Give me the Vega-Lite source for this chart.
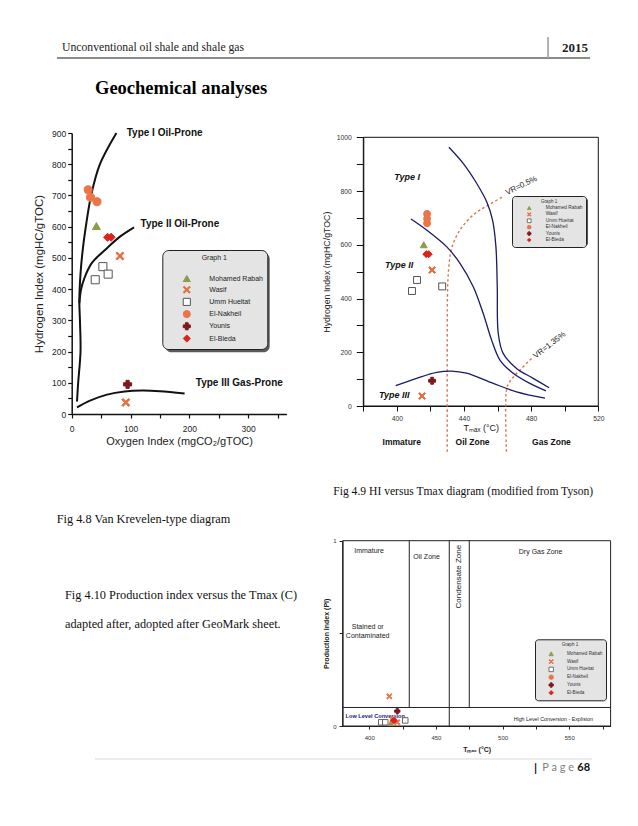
{
 "$schema": "https://vega.github.io/schema/vega-lite/v6.json",
 "width": 638,
 "height": 826,
 "autosize": {"type": "none"},
 "padding": 0,
 "background": "#ffffff",
 "config": {"view": {"stroke": null}, "font": "Liberation Sans"},
 "datasets": {
  "vk": [
   {"sample": "El-Nakheil", "oi": 28, "hi": 718},
   {"sample": "El-Nakheil", "oi": 32, "hi": 694},
   {"sample": "El-Nakheil", "oi": 43, "hi": 680},
   {"sample": "Mohamed Rabah", "oi": 42, "hi": 602},
   {"sample": "El-Bieda", "oi": 61, "hi": 566},
   {"sample": "El-Bieda", "oi": 67, "hi": 566},
   {"sample": "Wasif", "oi": 82, "hi": 506},
   {"sample": "Wasif", "oi": 92, "hi": 37},
   {"sample": "Umm Hueitat", "oi": 53, "hi": 472},
   {"sample": "Umm Hueitat", "oi": 62, "hi": 448},
   {"sample": "Umm Hueitat", "oi": 40, "hi": 430},
   {"sample": "Younis", "oi": 95, "hi": 95}
  ],
  "vkCurves": [
   {"curve": "Type I", "oi": 9, "hi": 40},
   {"curve": "Type I", "oi": 11, "hi": 100},
   {"curve": "Type I", "oi": 15, "hi": 200},
   {"curve": "Type I", "oi": 14, "hi": 300},
   {"curve": "Type I", "oi": 13, "hi": 360},
   {"curve": "Type I", "oi": 15, "hi": 450},
   {"curve": "Type I", "oi": 19, "hi": 530},
   {"curve": "Type I", "oi": 24, "hi": 600},
   {"curve": "Type I", "oi": 33, "hi": 700},
   {"curve": "Type I", "oi": 48, "hi": 800},
   {"curve": "Type I", "oi": 76, "hi": 900},
   {"curve": "Type II", "oi": 13, "hi": 355},
   {"curve": "Type II", "oi": 16, "hi": 400},
   {"curve": "Type II", "oi": 21, "hi": 432},
   {"curve": "Type II", "oi": 34, "hi": 483},
   {"curve": "Type II", "oi": 60, "hi": 531},
   {"curve": "Type II", "oi": 82, "hi": 568},
   {"curve": "Type II", "oi": 106, "hi": 598},
   {"curve": "Type III", "oi": 9, "hi": 21},
   {"curve": "Type III", "oi": 30, "hi": 42},
   {"curve": "Type III", "oi": 60, "hi": 62},
   {"curve": "Type III", "oi": 90, "hi": 72},
   {"curve": "Type III", "oi": 120, "hi": 75},
   {"curve": "Type III", "oi": 150, "hi": 73},
   {"curve": "Type III", "oi": 192, "hi": 66}
  ],
  "vkLabels": [
   {"label": "Type I Oil-Prone", "oi": 93.5, "hi": 900},
   {"label": "Type II Oil-Prone", "oi": 117, "hi": 608},
   {"label": "Type III Gas-Prone", "oi": 211, "hi": 100}
  ],
  "ht": [
   {"sample": "El-Nakheil", "tmax": 418, "hi": 715},
   {"sample": "El-Nakheil", "tmax": 418, "hi": 697},
   {"sample": "El-Nakheil", "tmax": 418, "hi": 680},
   {"sample": "Mohamed Rabah", "tmax": 416, "hi": 600},
   {"sample": "El-Bieda", "tmax": 417.5, "hi": 565},
   {"sample": "El-Bieda", "tmax": 419, "hi": 565},
   {"sample": "Wasif", "tmax": 421, "hi": 506},
   {"sample": "Wasif", "tmax": 415, "hi": 37},
   {"sample": "Umm Hueitat", "tmax": 412, "hi": 469},
   {"sample": "Umm Hueitat", "tmax": 409, "hi": 428},
   {"sample": "Umm Hueitat", "tmax": 427, "hi": 445},
   {"sample": "Younis", "tmax": 421, "hi": 94}
  ],
  "htCurves": [
   {"curve": "A", "tmax": 431, "hi": 963},
   {"curve": "A", "tmax": 439.5, "hi": 903},
   {"curve": "A", "tmax": 447.5, "hi": 829},
   {"curve": "A", "tmax": 453.5, "hi": 760},
   {"curve": "A", "tmax": 457, "hi": 692},
   {"curve": "A", "tmax": 459, "hi": 593},
   {"curve": "A", "tmax": 459.8, "hi": 444},
   {"curve": "A", "tmax": 460.4, "hi": 270},
   {"curve": "A", "tmax": 463.3, "hi": 196},
   {"curve": "A", "tmax": 471.3, "hi": 140},
   {"curve": "A", "tmax": 481.2, "hi": 103},
   {"curve": "A", "tmax": 490.7, "hi": 68},
   {"curve": "B", "tmax": 408.4, "hi": 696},
   {"curve": "B", "tmax": 417.7, "hi": 655},
   {"curve": "B", "tmax": 429.6, "hi": 593},
   {"curve": "B", "tmax": 437.6, "hi": 531},
   {"curve": "B", "tmax": 445.5, "hi": 444},
   {"curve": "B", "tmax": 451.4, "hi": 345},
   {"curve": "B", "tmax": 456.4, "hi": 246},
   {"curve": "B", "tmax": 461.4, "hi": 171},
   {"curve": "B", "tmax": 469.3, "hi": 122},
   {"curve": "B", "tmax": 479.2, "hi": 84},
   {"curve": "B", "tmax": 488.8, "hi": 56},
   {"curve": "C", "tmax": 399.3, "hi": 76},
   {"curve": "C", "tmax": 411.8, "hi": 103},
   {"curve": "C", "tmax": 423.7, "hi": 125},
   {"curve": "C", "tmax": 432.6, "hi": 130},
   {"curve": "C", "tmax": 441.5, "hi": 122},
   {"curve": "C", "tmax": 457.4, "hi": 84},
   {"curve": "C", "tmax": 471.3, "hi": 53},
   {"curve": "C", "tmax": 488.2, "hi": 29}
  ],
  "htVR": [
   {"curve": "VR=0.5%", "tmax": 430, "hi": -170},
   {"curve": "VR=0.5%", "tmax": 430, "hi": 250},
   {"curve": "VR=0.5%", "tmax": 430.3, "hi": 450},
   {"curve": "VR=0.5%", "tmax": 431, "hi": 520},
   {"curve": "VR=0.5%", "tmax": 432.6, "hi": 587},
   {"curve": "VR=0.5%", "tmax": 437.6, "hi": 655},
   {"curve": "VR=0.5%", "tmax": 445.5, "hi": 711},
   {"curve": "VR=0.5%", "tmax": 453.4, "hi": 744},
   {"curve": "VR=0.5%", "tmax": 463.3, "hi": 779},
   {"curve": "VR=1.35%", "tmax": 465.3, "hi": -170},
   {"curve": "VR=1.35%", "tmax": 465.3, "hi": 60},
   {"curve": "VR=1.35%", "tmax": 467, "hi": 88},
   {"curve": "VR=1.35%", "tmax": 470, "hi": 112},
   {"curve": "VR=1.35%", "tmax": 474.3, "hi": 140},
   {"curve": "VR=1.35%", "tmax": 480.2, "hi": 177}
  ],
  "htTypes": [
   {"label": "Type I", "tmax": 398.5, "hi": 853},
   {"label": "Type II", "tmax": 393, "hi": 525},
   {"label": "Type III", "tmax": 389.3, "hi": 41}
  ],
  "htZones": [
   {"label": "Immature", "tmax": 402.9, "hi": -135},
   {"label": "Oil Zone", "tmax": 445.1, "hi": -135},
   {"label": "Gas Zone", "tmax": 492.1, "hi": -135}
  ],
  "pt": [
   {"sample": "Umm Hueitat", "tmax": 409, "pi": 0.02},
   {"sample": "Umm Hueitat", "tmax": 412, "pi": 0.02},
   {"sample": "Umm Hueitat", "tmax": 427, "pi": 0.03},
   {"sample": "Mohamed Rabah", "tmax": 416, "pi": 0.015},
   {"sample": "Wasif", "tmax": 415, "pi": 0.16},
   {"sample": "Wasif", "tmax": 421, "pi": 0.02},
   {"sample": "El-Nakheil", "tmax": 418, "pi": 0.025},
   {"sample": "El-Nakheil", "tmax": 418, "pi": 0.03},
   {"sample": "El-Nakheil", "tmax": 418, "pi": 0.035},
   {"sample": "El-Bieda", "tmax": 418, "pi": 0.03},
   {"sample": "El-Bieda", "tmax": 419, "pi": 0.03},
   {"sample": "Younis", "tmax": 421, "pi": 0.08}
  ],
  "ptBounds": [
   {"tmax": 430, "pi_from": 0.1, "pi_to": 1},
   {"tmax": 460, "pi_from": 0, "pi_to": 1},
   {"tmax": 475, "pi_from": 0.1, "pi_to": 1}
  ],
  "ptLevel": [
   {"tmax_from": 380, "tmax_to": 581, "pi": 0.1}
  ],
  "ptZones": [
   {"label": "Immature", "tmax": 399.8, "pi": 0.944},
   {"label": "Oil Zone", "tmax": 443, "pi": 0.914},
   {"label": "Dry Gas Zone", "tmax": 528.5, "pi": 0.937},
   {"label": "Stained or", "tmax": 398.8, "pi": 0.536},
   {"label": "Contaminated", "tmax": 398.8, "pi": 0.486}
  ]
 },
 "layer": [
  {
   "layer": [
    {
     "data": {"values": [{"item": "legend shadow"}]},
     "mark": {"type": "rect", "color": "#5a5a5a", "cornerRadius": 6},
     "encoding": {
      "x": {"datum": 159.1, "type": "quantitative", "scale": {"domain": [0, 365], "range": [71.7, 286.4], "nice": false, "zero": false}},
      "x2": {"datum": 336.6},
      "y": {"datum": 515.7, "type": "quantitative", "scale": {"domain": [0, 900], "range": [414, 133], "nice": false, "zero": false}},
      "y2": {"datum": 197.6}
     }
    },
    {
     "data": {"name": "vkCurves"},
     "mark": {"type": "line", "color": "#111111", "strokeWidth": 2, "interpolate": "catmull-rom"},
     "encoding": {
      "x": {"field": "oi", "type": "quantitative", "scale": {"domain": [0, 365], "range": [71.7, 286.4], "nice": false, "zero": false}},
      "y": {"field": "hi", "type": "quantitative", "scale": {"domain": [0, 900], "range": [414, 133], "nice": false, "zero": false}},
      "detail": {"field": "curve"},
      "order": {"value": null}
     }
    },
    {
     "data": {"name": "vk"},
     "mark": {"type": "point", "filled": true, "opacity": 1, "size": 65, "strokeWidth": 1},
     "encoding": {
      "x": {"field": "oi", "type": "quantitative", "scale": {"domain": [0, 365], "range": [71.7, 286.4], "nice": false, "zero": false},
       "axis": {"orient": "bottom", "offset": -412, "values": [0, 50, 100, 150, 200, 250, 300, 350], "labelExpr": "datum.value % 100 == 0 ? datum.label : ''", "format": "d", "title": "Oxygen Index (mgCO₂/gTOC)", "titleFont": "Liberation Sans", "titleFontSize": 11, "titleFontWeight": "normal", "titleColor": "#222222", "titlePadding": 3, "labelFont": "Liberation Sans", "labelFontSize": 8.5, "labelColor": "#222222", "labelPadding": 6, "labelFlush": false, "tickSize": 4, "tickWidth": 1.2, "tickColor": "#111111", "domainColor": "#111111", "domainWidth": 1.5, "grid": false}},
      "y": {"field": "hi", "type": "quantitative", "scale": {"domain": [0, 900], "range": [414, 133], "nice": false, "zero": false},
       "axis": {"orient": "left", "offset": -71.7, "values": [0, 50, 100, 150, 200, 250, 300, 350, 400, 450, 500, 550, 600, 650, 700, 750, 800, 850, 900], "labelExpr": "datum.value % 100 == 0 ? datum.label : ''", "format": "d", "title": "Hydrogen Index (mgHC/gTOC)", "titleFont": "Liberation Sans", "titleFontSize": 11.5, "titleFontWeight": "normal", "titleColor": "#222222", "titlePadding": 7, "labelFont": "Liberation Sans", "labelFontSize": 8.5, "labelColor": "#222222", "labelPadding": 2, "labelFlush": false, "tickSize": 4, "tickWidth": 1.2, "tickColor": "#111111", "domainColor": "#111111", "domainWidth": 1.5, "grid": false}},
      "shape": {"field": "sample", "type": "nominal", "scale": {"domain": ["Mohamed Rabah", "Wasif", "Umm Hueitat", "El-Nakheil", "Younis", "El-Bieda"], "range": ["triangle-up", "M-1,-0.7L-0.7,-1L0,-0.3L0.7,-1L1,-0.7L0.3,0L1,0.7L0.7,1L0,0.3L-0.7,1L-1,0.7L-0.3,0Z", "square", "circle", "cross", "diamond"]},
       "legend": {"orient": "none", "legendX": 162.3, "legendY": 250, "title": "Graph 1", "titleFont": "Liberation Sans", "titleFontSize": 7, "titleFontWeight": "normal", "titleColor": "#222222", "titleAnchor": "middle", "titlePadding": 13, "labelFont": "Liberation Sans", "labelFontSize": 7, "labelColor": "#222222", "labelOffset": 18, "symbolOffset": 16, "symbolSize": 50, "symbolStrokeWidth": 1, "symbolOpacity": 1, "rowPadding": -0.8, "padding": 4, "fillColor": "#e4e4e4", "strokeColor": "#222222", "cornerRadius": 6}},
      "fill": {"field": "sample", "type": "nominal", "scale": {"domain": ["Mohamed Rabah", "Wasif", "Umm Hueitat", "El-Nakheil", "Younis", "El-Bieda"], "range": ["#8d9b4e", "#e2703f", "#ffffff", "#ec7547", "#7b1a1e", "#d9231d"]},
       "legend": {"orient": "none", "legendX": 162.3, "legendY": 250, "title": "Graph 1", "titleFont": "Liberation Sans", "titleFontSize": 7, "titleFontWeight": "normal", "titleColor": "#222222", "titleAnchor": "middle", "titlePadding": 13, "labelFont": "Liberation Sans", "labelFontSize": 7, "labelColor": "#222222", "labelOffset": 18, "symbolOffset": 16, "symbolSize": 50, "symbolStrokeWidth": 1, "symbolOpacity": 1, "rowPadding": -0.8, "padding": 4, "fillColor": "#e4e4e4", "strokeColor": "#222222", "cornerRadius": 6}},
      "stroke": {"field": "sample", "type": "nominal", "scale": {"domain": ["Mohamed Rabah", "Wasif", "Umm Hueitat", "El-Nakheil", "Younis", "El-Bieda"], "range": ["#8d9b4e", "#e2703f", "#555555", "#ec7547", "#7b1a1e", "#d9231d"]},
       "legend": {"orient": "none", "legendX": 162.3, "legendY": 250, "title": "Graph 1", "titleFont": "Liberation Sans", "titleFontSize": 7, "titleFontWeight": "normal", "titleColor": "#222222", "titleAnchor": "middle", "titlePadding": 13, "labelFont": "Liberation Sans", "labelFontSize": 7, "labelColor": "#222222", "labelOffset": 18, "symbolOffset": 16, "symbolSize": 50, "symbolStrokeWidth": 1, "symbolOpacity": 1, "rowPadding": -0.8, "padding": 4, "fillColor": "#e4e4e4", "strokeColor": "#222222", "cornerRadius": 6}}
     }
    },
    {
     "data": {"name": "vkLabels"},
     "mark": {"type": "text", "font": "Liberation Sans", "fontWeight": "bold", "fontSize": 10, "align": "left", "baseline": "middle", "color": "#111111"},
     "encoding": {
      "x": {"field": "oi", "type": "quantitative", "scale": {"domain": [0, 365], "range": [71.7, 286.4], "nice": false, "zero": false}},
      "y": {"field": "hi", "type": "quantitative", "scale": {"domain": [0, 900], "range": [414, 133], "nice": false, "zero": false}},
      "text": {"field": "label"}
     }
    },
    {
     "data": {"values": [{"label": "Unconventional oil shale and shale gas"}]},
     "mark": {"type": "text", "font": "Liberation Serif", "fontSize": 11.7, "align": "left", "baseline": "middle", "color": "#222222"},
     "encoding": {
      "x": {"datum": -16.5, "type": "quantitative", "scale": {"domain": [0, 365], "range": [71.7, 286.4], "nice": false, "zero": false}},
      "y": {"datum": 1175.4, "type": "quantitative", "scale": {"domain": [0, 900], "range": [414, 133], "nice": false, "zero": false}},
      "text": {"field": "label"}
     }
    },
    {
     "data": {"values": [{"label": "Geochemical analyses"}]},
     "mark": {"type": "text", "font": "Liberation Serif", "fontSize": 18.5, "fontWeight": "bold", "align": "left", "baseline": "middle", "color": "#000000"},
     "encoding": {
      "x": {"datum": 39.6, "type": "quantitative", "scale": {"domain": [0, 365], "range": [71.7, 286.4], "nice": false, "zero": false}},
      "y": {"datum": 1044.1, "type": "quantitative", "scale": {"domain": [0, 900], "range": [414, 133], "nice": false, "zero": false}},
      "text": {"field": "label"}
     }
    },
    {
     "data": {"values": [{"item": "header rule"}]},
     "mark": {"type": "rule", "color": "#8c8c8c", "strokeWidth": 2},
     "encoding": {
      "x": {"datum": -25, "type": "quantitative", "scale": {"domain": [0, 365], "range": [71.7, 286.4], "nice": false, "zero": false}},
      "x2": {"datum": 881.2},
      "y": {"datum": 1140.2, "type": "quantitative", "scale": {"domain": [0, 900], "range": [414, 133], "nice": false, "zero": false}}
     }
    },
    {
     "data": {"values": [{"item": "header divider"}]},
     "mark": {"type": "rule", "color": "#9a9a9a", "strokeWidth": 1.5},
     "encoding": {
      "x": {"datum": 809.8, "type": "quantitative", "scale": {"domain": [0, 365], "range": [71.7, 286.4], "nice": false, "zero": false}},
      "y": {"datum": 1140.2, "type": "quantitative", "scale": {"domain": [0, 900], "range": [414, 133], "nice": false, "zero": false}},
      "y2": {"datum": 1207.5}
     }
    },
    {
     "data": {"values": [{"label": "Fig 4.8 Van Krevelen-type diagram"}]},
     "mark": {"type": "text", "font": "Liberation Serif", "fontSize": 12.3, "align": "left", "baseline": "middle", "color": "#111111"},
     "encoding": {
      "x": {"datum": -25.5, "type": "quantitative", "scale": {"domain": [0, 365], "range": [71.7, 286.4], "nice": false, "zero": false}},
      "y": {"datum": -336.3, "type": "quantitative", "scale": {"domain": [0, 900], "range": [414, 133], "nice": false, "zero": false}},
      "text": {"field": "label"}
     }
    }
   ]
  },
  {
   "layer": [
    {
     "data": {"values": [{"item": "plot frame"}]},
     "mark": {"type": "rect", "fill": null, "stroke": "#111111", "strokeWidth": 1},
     "encoding": {
      "x": {"datum": 380, "type": "quantitative", "scale": {"domain": [380, 520], "range": [363.3, 598.3], "nice": false, "zero": false}},
      "x2": {"datum": 520},
      "y": {"datum": 0, "type": "quantitative", "scale": {"domain": [0, 1000], "range": [406, 137.3], "nice": false, "zero": false}},
      "y2": {"datum": 1000}
     }
    },
    {
     "data": {"values": [{"item": "legend shadow"}]},
     "mark": {"type": "rect", "color": "#5a5a5a", "cornerRadius": 3},
     "encoding": {
      "x": {"datum": 469.8, "type": "quantitative", "scale": {"domain": [380, 520], "range": [363.3, 598.3], "nice": false, "zero": false}},
      "x2": {"datum": 513.9},
      "y": {"datum": 774.1, "type": "quantitative", "scale": {"domain": [0, 1000], "range": [406, 137.3], "nice": false, "zero": false}},
      "y2": {"datum": 595.5}
     }
    },
    {
     "data": {"name": "htVR"},
     "mark": {"type": "line", "color": "#e0704a", "strokeWidth": 1.4, "strokeDash": [2.5, 2.5], "interpolate": "catmull-rom"},
     "encoding": {
      "x": {"field": "tmax", "type": "quantitative", "scale": {"domain": [380, 520], "range": [363.3, 598.3], "nice": false, "zero": false}},
      "y": {"field": "hi", "type": "quantitative", "scale": {"domain": [0, 1000], "range": [406, 137.3], "nice": false, "zero": false}},
      "detail": {"field": "curve"},
      "order": {"value": null}
     }
    },
    {
     "data": {"name": "htCurves"},
     "mark": {"type": "line", "color": "#1a1a66", "strokeWidth": 1.3, "interpolate": "catmull-rom"},
     "encoding": {
      "x": {"field": "tmax", "type": "quantitative", "scale": {"domain": [380, 520], "range": [363.3, 598.3], "nice": false, "zero": false}},
      "y": {"field": "hi", "type": "quantitative", "scale": {"domain": [0, 1000], "range": [406, 137.3], "nice": false, "zero": false}},
      "detail": {"field": "curve"},
      "order": {"value": null}
     }
    },
    {
     "data": {"name": "ht"},
     "mark": {"type": "point", "filled": true, "opacity": 1, "size": 48, "strokeWidth": 1},
     "encoding": {
      "x": {"field": "tmax", "type": "quantitative", "scale": {"domain": [380, 520], "range": [363.3, 598.3], "nice": false, "zero": false},
       "axis": {"orient": "bottom", "offset": -420, "values": [380, 400, 420, 440, 460, 480, 500, 520], "labelExpr": "(datum.value - 400) % 40 == 0 ? datum.label : ''", "format": "d", "title": "Tₘₐₓ (°C)", "titleFont": "Liberation Sans", "titleFontSize": 9, "titleFontWeight": "normal", "titleColor": "#222222", "titlePadding": 2, "labelFont": "Liberation Sans", "labelFontSize": 6.8, "labelColor": "#333333", "labelPadding": 4, "labelFlush": false, "tickSize": 5, "tickWidth": 1, "tickColor": "#111111", "domainColor": "#111111", "domainWidth": 1, "grid": false}},
      "y": {"field": "hi", "type": "quantitative", "scale": {"domain": [0, 1000], "range": [406, 137.3], "nice": false, "zero": false},
       "axis": {"orient": "left", "offset": -363.3, "values": [0, 100, 200, 300, 400, 500, 600, 700, 800, 900, 1000], "labelExpr": "datum.value % 200 == 0 ? datum.label : ''", "format": "d", "title": "Hydrogen Index (mgHC/gTOC)", "titleFont": "Liberation Sans", "titleFontSize": 8.8, "titleFontWeight": "normal", "titleColor": "#222222", "titlePadding": 5, "labelFont": "Liberation Sans", "labelFontSize": 6.8, "labelColor": "#333333", "labelPadding": 5, "labelFlush": false, "tickSize": 7, "tickWidth": 1, "tickColor": "#111111", "domainColor": "#111111", "domainWidth": 1, "grid": false}},
      "shape": {"field": "sample", "type": "nominal", "scale": {"domain": ["Mohamed Rabah", "Wasif", "Umm Hueitat", "El-Nakheil", "Younis", "El-Bieda"], "range": ["triangle-up", "M-1,-0.7L-0.7,-1L0,-0.3L0.7,-1L1,-0.7L0.3,0L1,0.7L0.7,1L0,0.3L-0.7,1L-1,0.7L-0.3,0Z", "square", "circle", "cross", "diamond"]},
       "legend": {"orient": "none", "legendX": 512, "legendY": 196, "title": "Graph 1", "titleFont": "Liberation Sans", "titleFontSize": 4.5, "titleFontWeight": "normal", "titleColor": "#333333", "titleAnchor": "middle", "titlePadding": 2, "labelFont": "Liberation Sans", "labelFontSize": 4.8, "labelColor": "#333333", "labelOffset": 14, "symbolOffset": 11.7, "symbolSize": 14, "symbolStrokeWidth": 0.8, "symbolOpacity": 1, "rowPadding": -0.6, "padding": 3, "fillColor": "#e4e4e4", "strokeColor": "#222222", "cornerRadius": 3}},
      "fill": {"field": "sample", "type": "nominal", "scale": {"domain": ["Mohamed Rabah", "Wasif", "Umm Hueitat", "El-Nakheil", "Younis", "El-Bieda"], "range": ["#8d9b4e", "#e2703f", "#ffffff", "#ec7547", "#7b1a1e", "#d9231d"]},
       "legend": {"orient": "none", "legendX": 512, "legendY": 196, "title": "Graph 1", "titleFont": "Liberation Sans", "titleFontSize": 4.5, "titleFontWeight": "normal", "titleColor": "#333333", "titleAnchor": "middle", "titlePadding": 2, "labelFont": "Liberation Sans", "labelFontSize": 4.8, "labelColor": "#333333", "labelOffset": 14, "symbolOffset": 11.7, "symbolSize": 14, "symbolStrokeWidth": 0.8, "symbolOpacity": 1, "rowPadding": -0.6, "padding": 3, "fillColor": "#e4e4e4", "strokeColor": "#222222", "cornerRadius": 3}},
      "stroke": {"field": "sample", "type": "nominal", "scale": {"domain": ["Mohamed Rabah", "Wasif", "Umm Hueitat", "El-Nakheil", "Younis", "El-Bieda"], "range": ["#8d9b4e", "#e2703f", "#555555", "#ec7547", "#7b1a1e", "#d9231d"]},
       "legend": {"orient": "none", "legendX": 512, "legendY": 196, "title": "Graph 1", "titleFont": "Liberation Sans", "titleFontSize": 4.5, "titleFontWeight": "normal", "titleColor": "#333333", "titleAnchor": "middle", "titlePadding": 2, "labelFont": "Liberation Sans", "labelFontSize": 4.8, "labelColor": "#333333", "labelOffset": 14, "symbolOffset": 11.7, "symbolSize": 14, "symbolStrokeWidth": 0.8, "symbolOpacity": 1, "rowPadding": -0.6, "padding": 3, "fillColor": "#e4e4e4", "strokeColor": "#222222", "cornerRadius": 3}}
     }
    },
    {
     "data": {"name": "htTypes"},
     "mark": {"type": "text", "font": "Liberation Sans", "fontWeight": "bold", "fontStyle": "italic", "fontSize": 9, "align": "left", "baseline": "middle", "color": "#111111"},
     "encoding": {
      "x": {"field": "tmax", "type": "quantitative", "scale": {"domain": [380, 520], "range": [363.3, 598.3], "nice": false, "zero": false}},
      "y": {"field": "hi", "type": "quantitative", "scale": {"domain": [0, 1000], "range": [406, 137.3], "nice": false, "zero": false}},
      "text": {"field": "label"}
     }
    },
    {
     "data": {"name": "htZones"},
     "mark": {"type": "text", "font": "Liberation Sans", "fontWeight": "bold", "fontSize": 8.5, "align": "center", "baseline": "middle", "color": "#111111"},
     "encoding": {
      "x": {"field": "tmax", "type": "quantitative", "scale": {"domain": [380, 520], "range": [363.3, 598.3], "nice": false, "zero": false}},
      "y": {"field": "hi", "type": "quantitative", "scale": {"domain": [0, 1000], "range": [406, 137.3], "nice": false, "zero": false}},
      "text": {"field": "label"}
     }
    },
    {
     "data": {"values": [{"label": "VR=0.5%", "tmax": 474.3, "hi": 819}]},
     "mark": {"type": "text", "font": "Liberation Sans", "fontSize": 8, "angle": -26, "align": "center", "baseline": "middle", "color": "#222222"},
     "encoding": {
      "x": {"field": "tmax", "type": "quantitative", "scale": {"domain": [380, 520], "range": [363.3, 598.3], "nice": false, "zero": false}},
      "y": {"field": "hi", "type": "quantitative", "scale": {"domain": [0, 1000], "range": [406, 137.3], "nice": false, "zero": false}},
      "text": {"field": "label"}
     }
    },
    {
     "data": {"values": [{"label": "VR=1.35%", "tmax": 491.1, "hi": 226}]},
     "mark": {"type": "text", "font": "Liberation Sans", "fontSize": 8, "angle": -38, "align": "center", "baseline": "middle", "color": "#222222"},
     "encoding": {
      "x": {"field": "tmax", "type": "quantitative", "scale": {"domain": [380, 520], "range": [363.3, 598.3], "nice": false, "zero": false}},
      "y": {"field": "hi", "type": "quantitative", "scale": {"domain": [0, 1000], "range": [406, 137.3], "nice": false, "zero": false}},
      "text": {"field": "label"}
     }
    },
    {
     "data": {"values": [{"label": "2015"}]},
     "mark": {"type": "text", "font": "Liberation Serif", "fontSize": 13, "fontWeight": "bold", "align": "right", "baseline": "middle", "color": "#222222"},
     "encoding": {
      "x": {"datum": 513.9, "type": "quantitative", "scale": {"domain": [380, 520], "range": [363.3, 598.3], "nice": false, "zero": false}},
      "y": {"datum": 1332.3, "type": "quantitative", "scale": {"domain": [0, 1000], "range": [406, 137.3], "nice": false, "zero": false}},
      "text": {"field": "label"}
     }
    },
    {
     "data": {"values": [{"label": "Fig 4.9 HI versus Tmax diagram (modified from Tyson)"}]},
     "mark": {"type": "text", "font": "Liberation Serif", "fontSize": 11.6, "align": "left", "baseline": "middle", "color": "#111111"},
     "encoding": {
      "x": {"datum": 362.1, "type": "quantitative", "scale": {"domain": [380, 520], "range": [363.3, 598.3], "nice": false, "zero": false}},
      "y": {"datum": -318.9, "type": "quantitative", "scale": {"domain": [0, 1000], "range": [406, 137.3], "nice": false, "zero": false}},
      "text": {"field": "label"}
     }
    }
   ]
  },
  {
   "layer": [
    {
     "data": {"values": [{"item": "plot frame"}]},
     "mark": {"type": "rect", "fill": null, "stroke": "#222222", "strokeWidth": 1},
     "encoding": {
      "x": {"datum": 380, "type": "quantitative", "scale": {"domain": [380, 581], "range": [342.6, 610.6], "nice": false, "zero": false}},
      "x2": {"datum": 581},
      "y": {"datum": 0, "type": "quantitative", "scale": {"domain": [0, 1], "range": [726, 540.7], "nice": false, "zero": false}},
      "y2": {"datum": 1}
     }
    },
    {
     "data": {"name": "ptBounds"},
     "mark": {"type": "rule", "color": "#222222", "strokeWidth": 1},
     "encoding": {
      "x": {"field": "tmax", "type": "quantitative", "scale": {"domain": [380, 581], "range": [342.6, 610.6], "nice": false, "zero": false}},
      "y": {"field": "pi_from", "type": "quantitative", "scale": {"domain": [0, 1], "range": [726, 540.7], "nice": false, "zero": false}},
      "y2": {"field": "pi_to"}
     }
    },
    {
     "data": {"name": "ptLevel"},
     "mark": {"type": "rule", "color": "#222222", "strokeWidth": 1},
     "encoding": {
      "x": {"field": "tmax_from", "type": "quantitative", "scale": {"domain": [380, 581], "range": [342.6, 610.6], "nice": false, "zero": false}},
      "x2": {"field": "tmax_to"},
      "y": {"field": "pi", "type": "quantitative", "scale": {"domain": [0, 1], "range": [726, 540.7], "nice": false, "zero": false}}
     }
    },
    {
     "data": {"values": [{"item": "legend shadow"}]},
     "mark": {"type": "rect", "color": "#5a5a5a", "cornerRadius": 3},
     "encoding": {
      "x": {"datum": 525.8, "type": "quantitative", "scale": {"domain": [380, 581], "range": [342.6, 610.6], "nice": false, "zero": false}},
      "x2": {"datum": 577.0},
      "y": {"datum": 0.457, "type": "quantitative", "scale": {"domain": [0, 1], "range": [726, 540.7], "nice": false, "zero": false}},
      "y2": {"datum": 0.1387}
     }
    },
    {
     "data": {"name": "ptZones"},
     "mark": {"type": "text", "font": "Liberation Sans", "fontSize": 7, "align": "center", "baseline": "middle", "color": "#222222"},
     "encoding": {
      "x": {"field": "tmax", "type": "quantitative", "scale": {"domain": [380, 581], "range": [342.6, 610.6], "nice": false, "zero": false}},
      "y": {"field": "pi", "type": "quantitative", "scale": {"domain": [0, 1], "range": [726, 540.7], "nice": false, "zero": false}},
      "text": {"field": "label"}
     }
    },
    {
     "data": {"values": [{"label": "Condensate Zone", "tmax": 467.5, "pi": 0.806}]},
     "mark": {"type": "text", "font": "Liberation Sans", "fontSize": 8, "angle": -90, "align": "center", "baseline": "middle", "color": "#222222"},
     "encoding": {
      "x": {"field": "tmax", "type": "quantitative", "scale": {"domain": [380, 581], "range": [342.6, 610.6], "nice": false, "zero": false}},
      "y": {"field": "pi", "type": "quantitative", "scale": {"domain": [0, 1], "range": [726, 540.7], "nice": false, "zero": false}},
      "text": {"field": "label"}
     }
    },
    {
     "data": {"values": [{"label": "Low Level Conversion", "tmax": 404.5, "pi": 0.056}]},
     "mark": {"type": "text", "font": "Liberation Sans", "fontSize": 5.6, "fontWeight": "bold", "align": "center", "baseline": "middle", "color": "#1b1b7a"},
     "encoding": {
      "x": {"field": "tmax", "type": "quantitative", "scale": {"domain": [380, 581], "range": [342.6, 610.6], "nice": false, "zero": false}},
      "y": {"field": "pi", "type": "quantitative", "scale": {"domain": [0, 1], "range": [726, 540.7], "nice": false, "zero": false}},
      "text": {"field": "label"}
     }
    },
    {
     "data": {"values": [{"label": "High Level Conversion - Explision", "tmax": 538, "pi": 0.038}]},
     "mark": {"type": "text", "font": "Liberation Sans", "fontSize": 5.3, "align": "center", "baseline": "middle", "color": "#222222"},
     "encoding": {
      "x": {"field": "tmax", "type": "quantitative", "scale": {"domain": [380, 581], "range": [342.6, 610.6], "nice": false, "zero": false}},
      "y": {"field": "pi", "type": "quantitative", "scale": {"domain": [0, 1], "range": [726, 540.7], "nice": false, "zero": false}},
      "text": {"field": "label"}
     }
    },
    {
     "data": {"name": "pt"},
     "mark": {"type": "point", "filled": true, "opacity": 1, "size": 30, "strokeWidth": 0.9},
     "encoding": {
      "x": {"field": "tmax", "type": "quantitative", "scale": {"domain": [380, 581], "range": [342.6, 610.6], "nice": false, "zero": false},
       "axis": {"orient": "bottom", "offset": -100, "values": [400, 425, 450, 475, 500, 525, 550, 575], "labelExpr": "datum.value % 50 == 0 ? datum.label : ''", "format": "d", "title": "Tₘₐₓ (°C)", "titleFont": "Liberation Sans", "titleFontSize": 7, "titleFontWeight": "bold", "titleColor": "#222222", "titlePadding": 5, "labelFont": "Liberation Sans", "labelFontSize": 6, "labelColor": "#333333", "labelPadding": 5, "labelFlush": false, "tickSize": 3, "tickWidth": 1, "tickColor": "#222222", "domainColor": "#222222", "domainWidth": 1, "grid": false}},
      "y": {"field": "pi", "type": "quantitative", "scale": {"domain": [0, 1], "range": [726, 540.7], "nice": false, "zero": false},
       "axis": {"orient": "left", "offset": -342.6, "values": [0, 0.5, 1], "labelExpr": "datum.value == 0.5 ? '' : datum.label", "format": "~g", "title": "Production Index (PI)", "titleFont": "Liberation Sans", "titleFontSize": 7, "titleFontWeight": "bold", "titleColor": "#222222", "titlePadding": 3, "labelFont": "Liberation Sans", "labelFontSize": 6, "labelColor": "#333333", "labelPadding": 3, "labelFlush": false, "tickSize": 3.5, "tickWidth": 1, "tickColor": "#222222", "domainColor": "#222222", "domainWidth": 1, "grid": false}},
      "shape": {"field": "sample", "type": "nominal", "scale": {"domain": ["Mohamed Rabah", "Wasif", "Umm Hueitat", "El-Nakheil", "Younis", "El-Bieda"], "range": ["triangle-up", "M-1,-0.7L-0.7,-1L0,-0.3L0.7,-1L1,-0.7L0.3,0L1,0.7L0.7,1L0,0.3L-0.7,1L-1,0.7L-0.3,0Z", "square", "circle", "cross", "diamond"]},
       "legend": {"orient": "none", "legendX": 535, "legendY": 639.3, "title": "Graph 1", "titleFont": "Liberation Sans", "titleFontSize": 4.6, "titleFontWeight": "normal", "titleColor": "#333333", "titleAnchor": "middle", "titlePadding": 3.9, "labelFont": "Liberation Sans", "labelFontSize": 4.6, "labelColor": "#333333", "labelOffset": 12.8, "symbolOffset": 10.2, "symbolSize": 20, "symbolStrokeWidth": 0.8, "symbolOpacity": 1, "rowPadding": -0.2, "padding": 3, "fillColor": "#e4e4e4", "strokeColor": "#222222", "cornerRadius": 3}},
      "fill": {"field": "sample", "type": "nominal", "scale": {"domain": ["Mohamed Rabah", "Wasif", "Umm Hueitat", "El-Nakheil", "Younis", "El-Bieda"], "range": ["#8d9b4e", "#e2703f", "#ffffff", "#ec7547", "#7b1a1e", "#d9231d"]},
       "legend": {"orient": "none", "legendX": 535, "legendY": 639.3, "title": "Graph 1", "titleFont": "Liberation Sans", "titleFontSize": 4.6, "titleFontWeight": "normal", "titleColor": "#333333", "titleAnchor": "middle", "titlePadding": 3.9, "labelFont": "Liberation Sans", "labelFontSize": 4.6, "labelColor": "#333333", "labelOffset": 12.8, "symbolOffset": 10.2, "symbolSize": 20, "symbolStrokeWidth": 0.8, "symbolOpacity": 1, "rowPadding": -0.2, "padding": 3, "fillColor": "#e4e4e4", "strokeColor": "#222222", "cornerRadius": 3}},
      "stroke": {"field": "sample", "type": "nominal", "scale": {"domain": ["Mohamed Rabah", "Wasif", "Umm Hueitat", "El-Nakheil", "Younis", "El-Bieda"], "range": ["#8d9b4e", "#e2703f", "#555555", "#ec7547", "#7b1a1e", "#d9231d"]},
       "legend": {"orient": "none", "legendX": 535, "legendY": 639.3, "title": "Graph 1", "titleFont": "Liberation Sans", "titleFontSize": 4.6, "titleFontWeight": "normal", "titleColor": "#333333", "titleAnchor": "middle", "titlePadding": 3.9, "labelFont": "Liberation Sans", "labelFontSize": 4.6, "labelColor": "#333333", "labelOffset": 12.8, "symbolOffset": 10.2, "symbolSize": 20, "symbolStrokeWidth": 0.8, "symbolOpacity": 1, "rowPadding": -0.2, "padding": 3, "fillColor": "#e4e4e4", "strokeColor": "#222222", "cornerRadius": 3}}
     }
    },
    {
     "data": {"values": [{"label": "Fig 4.10 Production index versus the Tmax (C)"}]},
     "mark": {"type": "text", "font": "Liberation Serif", "fontSize": 12.3, "align": "left", "baseline": "middle", "color": "#111111"},
     "encoding": {
      "x": {"datum": 171.8, "type": "quantitative", "scale": {"domain": [380, 581], "range": [342.6, 610.6], "nice": false, "zero": false}},
      "y": {"datum": 0.707, "type": "quantitative", "scale": {"domain": [0, 1], "range": [726, 540.7], "nice": false, "zero": false}},
      "text": {"field": "label"}
     }
    },
    {
     "data": {"values": [{"label": "adapted after, adopted after GeoMark sheet."}]},
     "mark": {"type": "text", "font": "Liberation Serif", "fontSize": 12.3, "align": "left", "baseline": "middle", "color": "#111111"},
     "encoding": {
      "x": {"datum": 171.8, "type": "quantitative", "scale": {"domain": [380, 581], "range": [342.6, 610.6], "nice": false, "zero": false}},
      "y": {"datum": 0.5505, "type": "quantitative", "scale": {"domain": [0, 1], "range": [726, 540.7], "nice": false, "zero": false}},
      "text": {"field": "label"}
     }
    },
    {
     "data": {"values": [{"item": "footer rule"}]},
     "mark": {"type": "rule", "color": "#d9d9d9", "strokeWidth": 1},
     "encoding": {
      "x": {"datum": 194.3, "type": "quantitative", "scale": {"domain": [380, 581], "range": [342.6, 610.6], "nice": false, "zero": false}},
      "x2": {"datum": 567.1},
      "y": {"datum": -0.1781, "type": "quantitative", "scale": {"domain": [0, 1], "range": [726, 540.7], "nice": false, "zero": false}}
     }
    },
    {
     "data": {"values": [{"label": "|"}]},
     "mark": {"type": "text", "font": "Lato", "fontSize": 12, "fontWeight": "bold", "align": "center", "baseline": "middle", "color": "#111111"},
     "encoding": {
      "x": {"datum": 524.7, "type": "quantitative", "scale": {"domain": [380, 581], "range": [342.6, 610.6], "nice": false, "zero": false}},
      "y": {"datum": -0.2267, "type": "quantitative", "scale": {"domain": [0, 1], "range": [726, 540.7], "nice": false, "zero": false}},
      "text": {"field": "label"}
     }
    },
    {
     "data": {"values": [{"label": "P a g e"}]},
     "mark": {"type": "text", "font": "Lato", "fontSize": 11, "align": "right", "baseline": "middle", "color": "#7f7f7f"},
     "encoding": {
      "x": {"datum": 553.6, "type": "quantitative", "scale": {"domain": [380, 581], "range": [342.6, 610.6], "nice": false, "zero": false}},
      "y": {"datum": -0.2267, "type": "quantitative", "scale": {"domain": [0, 1], "range": [726, 540.7], "nice": false, "zero": false}},
      "text": {"field": "label"}
     }
    },
    {
     "data": {"values": [{"label": "68"}]},
     "mark": {"type": "text", "font": "Lato", "fontSize": 11, "fontWeight": "bold", "align": "right", "baseline": "middle", "color": "#111111"},
     "encoding": {
      "x": {"datum": 565.6, "type": "quantitative", "scale": {"domain": [380, 581], "range": [342.6, 610.6], "nice": false, "zero": false}},
      "y": {"datum": -0.2267, "type": "quantitative", "scale": {"domain": [0, 1], "range": [726, 540.7], "nice": false, "zero": false}},
      "text": {"field": "label"}
     }
    }
   ]
  }
 ],
 "resolve": {
  "scale": {"x": "independent", "y": "independent", "shape": "independent", "fill": "independent", "stroke": "independent"},
  "axis": {"x": "independent", "y": "independent"},
  "legend": {"shape": "independent", "fill": "independent", "stroke": "independent"}
 }
}
